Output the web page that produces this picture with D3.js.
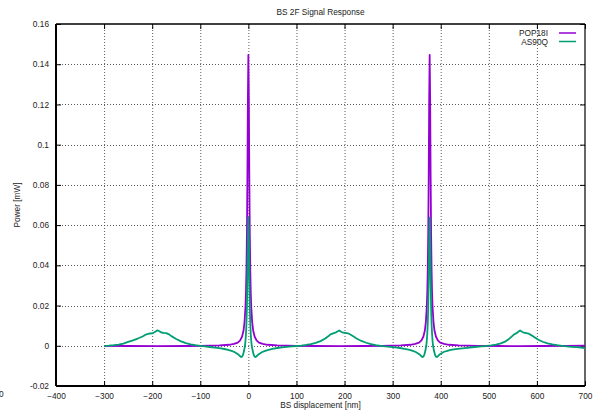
<!DOCTYPE html>
<html><head><meta charset="utf-8">
<script src="https://cdn.jsdelivr.net/npm/d3@7"></script>
<style>
body{margin:0;background:#fff;}
text{font-family:"Liberation Sans",Arial,Helvetica,sans-serif;fill:#222;}
</style></head>
<body><svg id="c" width="597" height="418"></svg>
<script>
const title = "BS 2F Signal Response";
const xLabel = "BS displacement [nm]";
const yLabel = "Power [mW]";
const seriesNames = ["POP18I", "AS90Q"];
const seriesColors = ["#9400d3", "#009e73"];
const xTicks = [-400,-300,-200,-100,0,100,200,300,400,500,600,700];
const yTicks = [-0.02,0,0.02,0.04,0.06,0.08,0.1,0.12,0.14,0.16];
const yTickLabels = ["-0.02","0","0.02","0.04","0.06","0.08","0.1","0.12","0.14","0.16"];

// POP18I [x, y]
const pop18i = [
[-300,0.0000],[-250,-0.0001],[-190,-0.0002],[-130,-0.0001],[-100,0.0000],[-60,0.0002],[-40,0.0005],[-30,0.0009],[-22,0.0016],[-17,0.0027],[-13,0.0046],[-10,0.0076],[-8,0.0116],[-6,0.0194],[-5,0.0263],[-4,0.0374],[-3,0.0553],[-2,0.0842],[-1,0.1225],
[0,0.1446],
[1,0.1225],[2,0.0842],[3,0.0553],[4,0.0374],[5,0.0263],[6,0.0194],[8,0.0116],[10,0.0076],[13,0.0046],[17,0.0027],[22,0.0016],[30,0.0009],[40,0.0005],[60,0.0002],[100,0.0000],[140,-0.0001],[190,-0.0002],[240,-0.0001],[277,0.0000],
[317,0.0002],[337,0.0005],[347,0.0009],[355,0.0016],[360,0.0027],[364,0.0046],[367,0.0076],[369,0.0116],[371,0.0194],[372,0.0263],[373,0.0374],[374,0.0553],[375,0.0842],[376,0.1225],
[377,0.1446],
[378,0.1225],[379,0.0842],[380,0.0553],[381,0.0374],[382,0.0263],[383,0.0194],[385,0.0116],[387,0.0076],[390,0.0046],[394,0.0027],[399,0.0016],[407,0.0009],[417,0.0005],[437,0.0002],[477,0.0000],[520,-0.0001],[565,-0.0002],[610,-0.0001],[660,0.0000],[700,0.0001]
];

// AS90Q [x, y]
const as90q = [
[-300,0.0000],[-290,0.0001],[-280,0.0003],[-270,0.0006],[-260,0.0011],[-250,0.0019],[-240,0.0027],[-230,0.0036],[-220,0.0046],[-212,0.0057],[-206,0.0061],[-200,0.0062],[-196,0.0066],[-192,0.0072],[-189,0.0077],[-185,0.0072],[-181,0.0066],[-176,0.0064],[-171,0.0063],[-166,0.0058],[-160,0.0048],[-150,0.0034],[-140,0.0022],[-130,0.0013],[-120,0.0007],[-110,0.0003],[-100,0.0000],
[-90,-0.0003],[-80,-0.0006],[-70,-0.0009],[-60,-0.0012],[-50,-0.0016],[-42,-0.0020],[-35,-0.0025],[-29,-0.0031],[-24,-0.0038],[-20,-0.0045],[-17,-0.0052],[-15,-0.0056],[-13,-0.0054],[-11,-0.0044],[-9,-0.0025],[-7,0.0000],[-6,0.0025],[-5,0.0060],[-4,0.0110],[-3,0.0190],[-2,0.0330],[-1,0.0520],
[0,0.0640],
[1,0.0520],[2,0.0330],[3,0.0190],[4,0.0110],[5,0.0060],[6,0.0025],[7,0.0000],[9,-0.0025],[11,-0.0044],[13,-0.0054],[15,-0.0056],[17,-0.0052],[20,-0.0045],[24,-0.0038],[29,-0.0031],[35,-0.0025],[42,-0.0020],[50,-0.0015],[60,-0.0011],[70,-0.0008],[80,-0.0005],[90,-0.0003],[100,-0.0001],
[110,0.0001],[120,0.0004],[130,0.0008],[140,0.0014],[150,0.0023],[160,0.0036],[166,0.0047],[171,0.0057],[176,0.0062],[181,0.0065],[185,0.0071],[189,0.0076],[193,0.0070],[197,0.0065],[202,0.0064],[207,0.0062],[212,0.0056],[218,0.0047],[225,0.0036],[235,0.0024],[245,0.0015],[255,0.0008],[265,0.0003],[275,0.0000],
[285,-0.0003],[295,-0.0005],[305,-0.0008],[315,-0.0011],[325,-0.0015],[335,-0.0020],[342,-0.0025],[348,-0.0031],[353,-0.0038],[357,-0.0045],[360,-0.0052],[362,-0.0056],[364,-0.0054],[366,-0.0044],[368,-0.0025],[370,0.0000],[371,0.0025],[372,0.0060],[373,0.0110],[374,0.0190],[375,0.0330],[376,0.0520],
[377,0.0637],
[378,0.0520],[379,0.0330],[380,0.0190],[381,0.0110],[382,0.0060],[383,0.0025],[384,0.0000],[386,-0.0025],[388,-0.0044],[390,-0.0054],[392,-0.0056],[394,-0.0052],[397,-0.0045],[401,-0.0038],[406,-0.0031],[412,-0.0026],[419,-0.0022],[427,-0.0018],[440,-0.0014],[455,-0.0010],[470,-0.0006],[485,-0.0003],[495,-0.0001],
[505,0.0002],[515,0.0006],[525,0.0012],[535,0.0022],[542,0.0034],[548,0.0047],[553,0.0057],[558,0.0063],[562,0.0071],[565,0.0076],[569,0.0070],[573,0.0065],[578,0.0063],[583,0.0060],[588,0.0053],[595,0.0042],[603,0.0030],[612,0.0020],[622,0.0012],[632,0.0007],[642,0.0003],[652,0.0000],
[662,-0.0003],[672,-0.0005],[682,-0.0007],[692,-0.0009],[700,-0.0011]
];

const L = 56, R = 585, T = 24, B = 386;
const FS = 8.3;
const svg = d3.select("#c");
const x = d3.scaleLinear().domain([-400,700]).range([L,R]);
const y = d3.scaleLinear().domain([-0.02,0.16]).range([B,T]);

// grid
const grid = svg.append("g");
grid.selectAll(".gx").data(xTicks.slice(1,-1)).enter().append("line")
  .attr("x1", d=>x(d)+0.5).attr("x2", d=>x(d)+0.5).attr("y1", T).attr("y2", B)
  .attr("stroke", "#333").attr("stroke-width", 0.8).attr("stroke-dasharray", "1,2");
grid.selectAll(".gy").data(yTicks.slice(1,-1)).enter().append("line")
  .attr("y1", d=>Math.round(y(d))+0.5).attr("y2", d=>Math.round(y(d))+0.5).attr("x1", L).attr("x2", R)
  .attr("stroke", "#333").attr("stroke-width", 0.8).attr("stroke-dasharray", "1,2");

// axes
const axB = d3.axisBottom(x).tickValues(xTicks).tickSize(-5).tickPadding(7).tickFormat(d3.format("d"));
const axT = d3.axisTop(x).tickValues(xTicks).tickSize(-5).tickFormat("");
const axL = d3.axisLeft(y).tickValues(yTicks).tickSize(-5).tickPadding(7).tickFormat((d,i)=>yTickLabels[i]);
const axR = d3.axisRight(y).tickValues(yTicks).tickSize(-5).tickFormat("");
function style(g){ g.select(".domain").remove(); g.selectAll("line").attr("stroke","#000");
  g.selectAll("text").style("font-size", FS+"px").attr("fill","#222"); }
svg.append("g").attr("transform",`translate(0,${B})`).call(axB).call(style);
svg.append("g").attr("transform",`translate(0,${T})`).call(axT).call(style);
svg.append("g").attr("transform",`translate(${L},0)`).call(axL).call(style);
svg.append("g").attr("transform",`translate(${R},0)`).call(axR).call(style);

// border
svg.append("line").attr("x1",L).attr("x2",L).attr("y1",T).attr("y2",B).attr("stroke","#000").attr("stroke-width",2);
svg.append("line").attr("x1",L).attr("x2",R).attr("y1",B).attr("y2",B).attr("stroke","#000").attr("stroke-width",2);
svg.append("line").attr("x1",L).attr("x2",R).attr("y1",T).attr("y2",T).attr("stroke","#000").attr("stroke-width",1.5);
svg.append("line").attr("x1",R).attr("x2",R).attr("y1",T).attr("y2",B).attr("stroke","#000").attr("stroke-width",1.2);

// lines
const line = d3.line().x(d=>x(d[0])).y(d=>y(d[1]));
[pop18i, as90q].forEach((s,i)=>{
  svg.append("path").datum(s).attr("d", line).attr("fill","none")
    .attr("stroke", seriesColors[i]).attr("stroke-width",1.8).attr("stroke-linejoin","round");
});

// legend
seriesNames.forEach((n,i)=>{
  const yy = 33 + i*8.5;
  svg.append("text").attr("x",548).attr("y",yy+3).attr("text-anchor","end").style("font-size",FS+"px").text(n);
  svg.append("line").attr("x1",559).attr("x2",576).attr("y1",yy).attr("y2",yy)
    .attr("stroke",seriesColors[i]).attr("stroke-width",1.5);
});

// titles
svg.append("text").attr("x",(L+R)/2).attr("y",15).attr("text-anchor","middle").style("font-size",FS+"px").text(title);
svg.append("text").attr("x",(L+R)/2).attr("y",408).attr("text-anchor","middle").style("font-size",FS+"px").text(xLabel);
svg.append("text").attr("transform",`translate(20,${(T+B)/2}) rotate(-90)`).attr("text-anchor","middle").style("font-size",FS+"px").text(yLabel);
svg.append("text").attr("x",-1).attr("y",397).style("font-size",FS+"px").text("0");
</script></body></html>
